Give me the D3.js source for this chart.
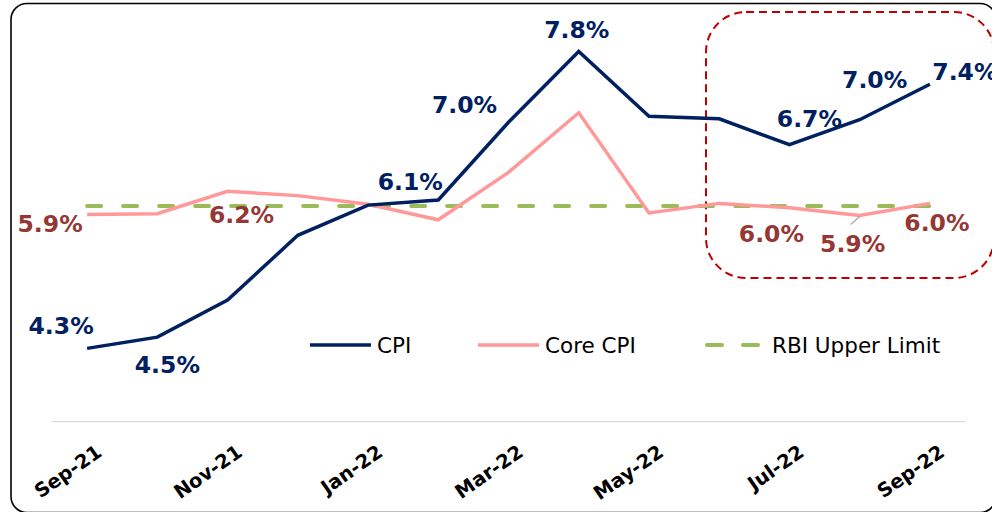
<!DOCTYPE html>
<html>
<head>
<meta charset="utf-8">
<script src="https://cdn.jsdelivr.net/npm/d3@7"></script>
<style>
  body { margin: 0; background: #fff; }
  svg { display: block; font-family: "DejaVu Sans", Verdana, sans-serif; }
</style>
</head>
<body>
<div id="chart"></div>
<script>
// monthly data, Sep-21 .. Sep-22
var months = ["Sep-21", "Oct-21", "Nov-21", "Dec-21", "Jan-22", "Feb-22", "Mar-22",
              "Apr-22", "May-22", "Jun-22", "Jul-22", "Aug-22", "Sep-22"];
var tickMonths = ["Sep-21", "Nov-21", "Jan-22", "Mar-22", "May-22", "Jul-22", "Sep-22"];
var cpi     = [4.35, 4.48, 4.91, 5.66, 6.01, 6.07, 6.97, 7.79, 7.04, 7.01, 6.71, 7.00, 7.41];
var coreCpi = [5.90, 5.91, 6.17, 6.12, 6.02, 5.84, 6.39, 7.08, 5.92, 6.03, 5.98, 5.89, 6.03];
var rbiUpper = [6, 6, 6, 6, 6, 6, 6, 6, 6, 6, 6, 6, 6];

// which points carry a label
var cpiLabels  = [0, 1, 5, 6, 7, 10, 11, 12];
var coreLabels = [0, 2, 10, 11, 12];

var W = 992, H = 512;
var svg = d3.select("#chart").append("svg")
    .attr("width", W)
    .attr("height", H);

// outer chart border
svg.append("rect")
    .attr("x", 11).attr("y", 3.5)
    .attr("width", 985).attr("height", 509)
    .attr("rx", 16)
    .attr("fill", "#fff")
    .attr("stroke", "#000")
    .attr("stroke-width", 1.6);

var x = d3.scalePoint()
    .domain(months)
    .range([52, 965])
    .padding(0.5);

var y = d3.scaleLinear()
    .domain([3.5, 8])
    .range([421.7, 33.4]);

// category axis line
svg.append("line")
    .attr("x1", 52).attr("x2", 965)
    .attr("y1", y(3.5)).attr("y2", y(3.5))
    .attr("stroke", "#d9d9d9")
    .attr("stroke-width", 1.3);

// highlight box around the last few months
svg.append("rect")
    .attr("x", 706).attr("y", 12)
    .attr("width", 288).attr("height", 266)
    .attr("rx", 40)
    .attr("fill", "none")
    .attr("stroke", "#c00000")
    .attr("stroke-width", 2)
    .attr("stroke-dasharray", "8,5");

var line = d3.line()
    .x(function(d, i) { return x(months[i]); })
    .y(function(d) { return y(d); });

svg.append("path")
    .datum(rbiUpper)
    .attr("d", line)
    .attr("fill", "none")
    .attr("stroke", "#9bbb59")
    .attr("stroke-width", 4)
    .attr("stroke-linecap", "round")
    .attr("stroke-dasharray", "14,22");

svg.append("path")
    .datum(coreCpi)
    .attr("d", line)
    .attr("fill", "none")
    .attr("stroke", "#ff9999")
    .attr("stroke-width", 3.5);

svg.append("path")
    .datum(cpi)
    .attr("d", line)
    .attr("fill", "none")
    .attr("stroke", "#002060")
    .attr("stroke-width", 3.5);

// x tick labels, rotated
svg.append("g")
    .selectAll("text")
    .data(tickMonths)
    .enter()
    .append("text")
        .attr("transform", function(d) { return "translate(" + (x(d) + 16) + ",455) rotate(-35)"; })
        .attr("text-anchor", "end")
        .attr("font-size", 19.5)
        .attr("font-weight", "bold")
        .attr("fill", "#000")
        .text(function(d) { return d; });

// data labels: offsets in px from the point
var cpiOffsets = {0: [-26, -14], 1: [10, 36], 5: [-28, -10], 6: [-44, -9], 7: [-2, -14],
                  10: [20, -18], 11: [15, -32], 12: [35, -4]};
var coreOffsets = {0: [-37, 17], 2: [14, 32], 10: [-18, 34], 11: [-7, 37], 12: [7, 28]};

function fmt(v) { return v.toFixed(1) + "%"; }

svg.append("g")
    .selectAll("text")
    .data(cpiLabels)
    .enter()
    .append("text")
        .attr("x", function(i) { return x(months[i]) + cpiOffsets[i][0]; })
        .attr("y", function(i) { return y(cpi[i]) + cpiOffsets[i][1]; })
        .attr("text-anchor", "middle")
        .attr("font-size", 23.5)
        .attr("font-weight", "bold")
        .attr("fill", "#002060")
        .text(function(i) { return fmt(cpi[i]); });

// leader line for Aug-22 core label
svg.append("line")
    .attr("x1", x(months[11])).attr("y1", y(coreCpi[11]) + 1)
    .attr("x2", x(months[11]) - 9).attr("y2", y(coreCpi[11]) + 9)
    .attr("stroke", "#a6a6a6")
    .attr("stroke-width", 1.3);

svg.append("g")
    .selectAll("text")
    .data(coreLabels)
    .enter()
    .append("text")
        .attr("x", function(i) { return x(months[i]) + coreOffsets[i][0]; })
        .attr("y", function(i) { return y(coreCpi[i]) + coreOffsets[i][1]; })
        .attr("text-anchor", "middle")
        .attr("font-size", 23.5)
        .attr("font-weight", "bold")
        .attr("fill", "#953735")
        .text(function(i) { return fmt(coreCpi[i]); });

// legend
var legendItems = [
    {name: "CPI", color: "#002060", x: 310, dash: null},
    {name: "Core CPI", color: "#ff9999", x: 478, dash: null},
    {name: "RBI Upper Limit", color: "#9bbb59", x: 707, dash: "14,22"}
];
var lg = svg.append("g").attr("transform", "translate(0,345)");
legendItems.forEach(function(d) {
    var l = lg.append("line")
        .attr("x1", d.x).attr("x2", d.x + (d.dash ? 53 : 61))
        .attr("y1", 0).attr("y2", 0)
        .attr("stroke", d.color)
        .attr("stroke-width", d.dash ? 4 : 3.5);
    if (d.dash) {
        l.attr("stroke-dasharray", "15,21").attr("stroke-linecap", "round");
    }
    lg.append("text")
        .attr("x", d.x + (d.dash ? 65 : 67))
        .attr("y", 8)
        .attr("font-size", 21.5)
        .attr("fill", "#000")
        .text(d.name);
});
</script>
</body>
</html>
